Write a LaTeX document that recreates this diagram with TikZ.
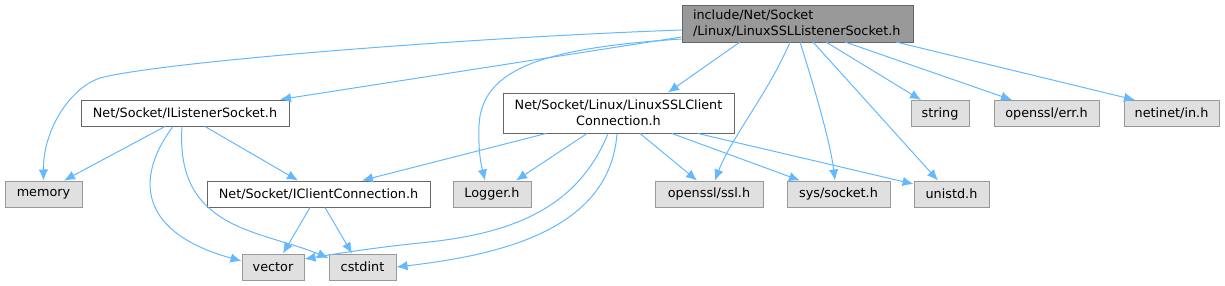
\documentclass[tikz,border=0pt]{standalone}
\usepackage{fontspec}
\setmainfont{DejaVu Sans}
\usetikzlibrary{arrows.meta}
\definecolor{edgec}{HTML}{63B8FF}
\definecolor{gfill}{HTML}{E0E0E0}
\definecolor{gdraw}{HTML}{999999}
\definecolor{wdraw}{HTML}{666666}
\definecolor{rfill}{HTML}{999999}
\tikzset{
  basebox/.style={draw, line width=1pt, inner sep=0pt, font=\fontsize{12.8}{16}\selectfont},
  gbox/.style={basebox, fill=gfill, draw=gdraw},
  wbox/.style={basebox, fill=white, draw=wdraw},
  rbox/.style={basebox, fill=rfill, draw=wdraw},
  edge/.style={draw=edgec, line width=1pt, -{Latex[length=11pt,width=9.5pt]}, fill=none},
}
\begin{document}
\begin{tikzpicture}[x=1pt,y=-1pt]
\useasboundingbox (0,0) rectangle (1225,285);
% nodes
\node[rbox, minimum width=231pt, minimum height=37pt, align=left, text width=209pt] (root) at (797.5,23.5) {include/Net/Socket\\/Linux/LinuxSSLListenerSocket.h};
\node[wbox, minimum width=208pt, minimum height=26pt] (lsock) at (185,113) {Net/Socket/IListenerSocket.h};
\node[wbox, minimum width=231pt, minimum height=40pt, align=center] (sslcc) at (618.5,113) {Net/Socket/Linux/LinuxSSLClient\\Connection.h};
\node[gbox, minimum width=58pt, minimum height=26pt] (string) at (940,113.5) {string};
\node[gbox, minimum width=105pt, minimum height=26pt] (err) at (1046.5,113.5) {openssl/err.h};
\node[gbox, minimum width=95pt, minimum height=26pt] (netinet) at (1171.5,113.5) {netinet/in.h};
\node[gbox, minimum width=77pt, minimum height=26pt] (memory) at (43.5,194) {memory};
\node[wbox, minimum width=223pt, minimum height=26pt] (icc) at (318.5,194) {Net/Socket/IClientConnection.h};
\node[gbox, minimum width=78pt, minimum height=26pt] (logger) at (492,194) {Logger.h};
\node[gbox, minimum width=108pt, minimum height=26pt] (ssl) at (709,194) {openssl/ssl.h};
\node[gbox, minimum width=103pt, minimum height=26pt] (syssock) at (838.5,194) {sys/socket.h};
\node[gbox, minimum width=75pt, minimum height=26pt] (unistd) at (951.5,194) {unistd.h};
\node[gbox, minimum width=62pt, minimum height=26pt] (vector) at (273,267) {vector};
\node[gbox, minimum width=67pt, minimum height=26pt] (cstdint) at (362.5,267) {cstdint};
% edges from root
\path[edge] (root.west |- 0,30) .. controls (460,38) and (160,62) .. (100,78) .. controls (70,88) and (43,130) .. (memory.north);
\path[edge] (root.west |- 0,37) -- (lsock.north east -| 280,0);
\path[edge] (740,42) -- (sslcc.north -| 668,0);
\path[edge] (root.west |- 0,39) .. controls (545,48) and (482,68) .. (479,125) .. controls (478,155) and (482,168) .. (logger.north -| 485,0);
\path[edge] (790,42) .. controls (770,90) and (730,140) .. (ssl.north -| 715,0);
\path[edge] (800,42) .. controls (812,80) and (830,140) .. (syssock.north -| 835,0);
\path[edge] (813,42) -- (unistd.north -| 938,0);
\path[edge] (826,42) -- (string.north -| 921,0);
\path[edge] (845,42) -- (err.north -| 1012,0);
\path[edge] (896,42) -- (netinet.north -| 1135,0);
% edges from IListenerSocket
\path[edge] (lsock.south -| 165,0) -- (memory.north -| 64,0);
\path[edge] (lsock.south -| 205,0) -- (icc.north -| 298,0);
\path[edge] (lsock.south -| 173,0) .. controls (140,170) and (130,230) .. (vector.west |- 0,261);
\path[edge] (lsock.south -| 182,0) .. controls (175,230) and (260,230) .. (cstdint.west |- 0,258);
% edges from IClientConnection
\path[edge] (icc.south -| 310,0) -- (vector.north -| 283,0);
\path[edge] (icc.south -| 325,0) -- (cstdint.north -| 352,0);
% edges from LinuxSSLClientConnection
\path[edge] (sslcc.south -| 546,0) -- (icc.north -| 362,0);
\path[edge] (sslcc.south -| 587,0) -- (logger.north -| 516,0);
\path[edge] (sslcc.south -| 608,0) .. controls (575,215) and (500,235) .. (420,243) .. controls (380,247) and (340,253) .. (vector.east |- 0,259);
\path[edge] (sslcc.south -| 617,0) .. controls (610,230) and (500,255) .. (cstdint.east |- 0,267);
\path[edge] (sslcc.south -| 640,0) -- (ssl.north -| 697,0);
\path[edge] (sslcc.south -| 672,0) -- (syssock.north -| 800,0);
\path[edge] (sslcc.south -| 698,0) -- (unistd.west |- 0,184);
\end{tikzpicture}
\end{document}
